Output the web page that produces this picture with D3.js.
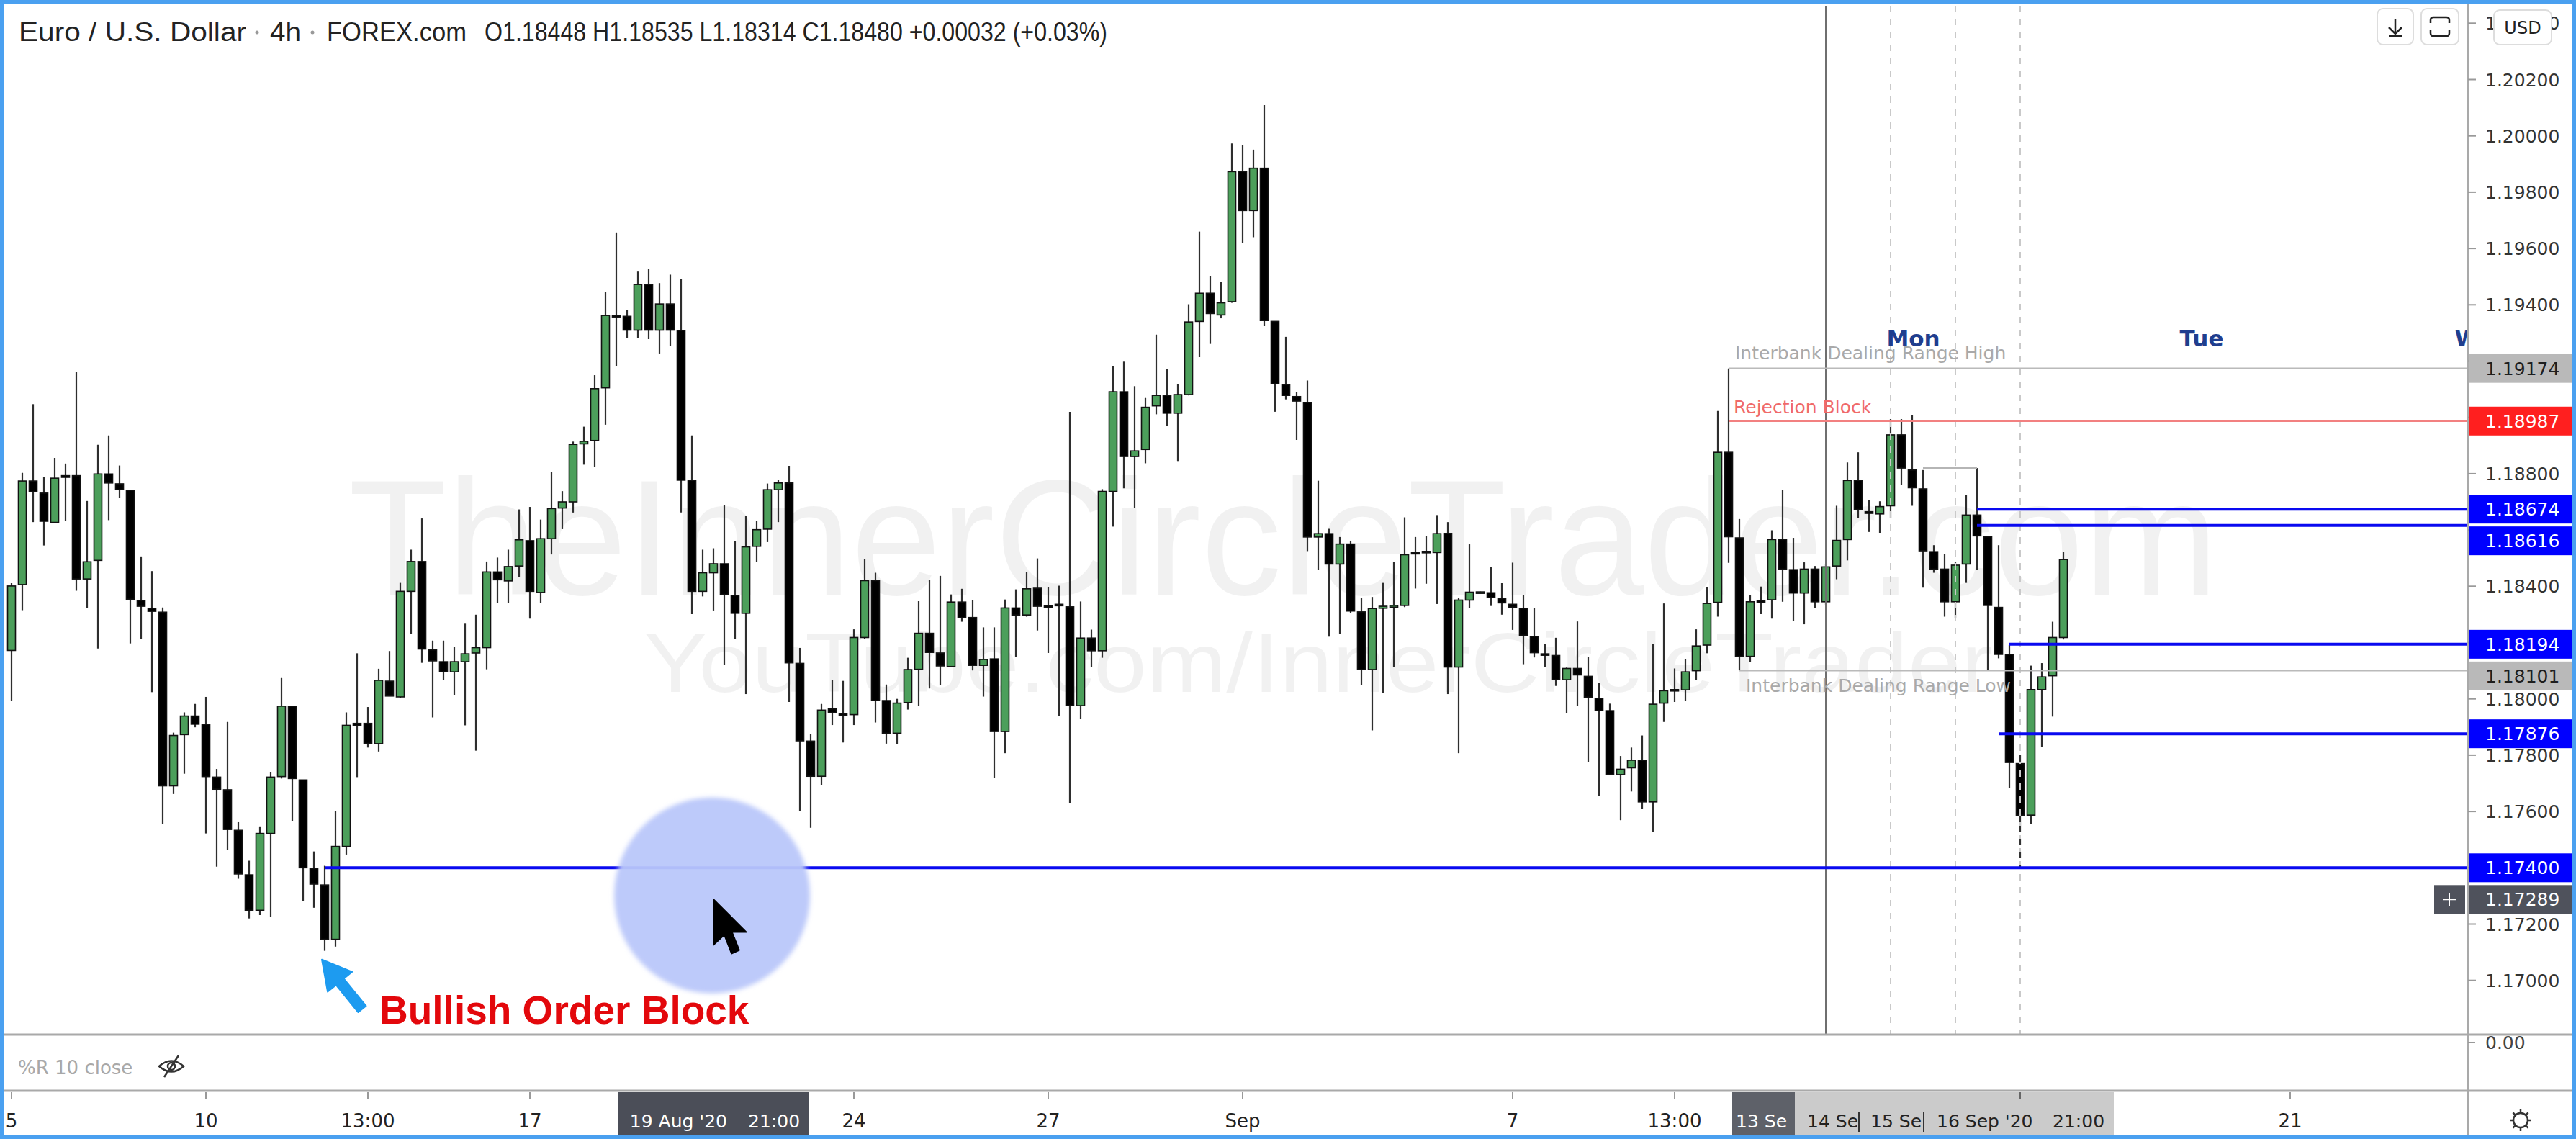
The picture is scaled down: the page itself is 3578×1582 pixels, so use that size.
<!DOCTYPE html>
<html><head><meta charset="utf-8">
<script src="https://cdn.jsdelivr.net/npm/d3@7"></script>
<style>html,body{margin:0;padding:0;background:#fff;overflow:hidden}</style>
</head><body><svg id="c" width="3578" height="1582"></svg>
<script>
// ---------------- DATA ----------------
const opens = [
1.18172,1.18406,1.18774,1.18731,1.18627,1.18793,1.18793,1.18426,1.18492,1.18799,
1.18764,1.18741,1.18350,1.18322,1.18308,1.17691,1.17873,1.17939,1.17909,1.17722,
1.17677,1.17533,1.17375,1.17249,1.17522,1.17724,1.17974,1.17712,1.17397,1.17339,
1.17146,1.17476,1.17913,1.17913,1.17841,1.18063,1.18007,1.18382,1.18488,1.18174,
1.18132,1.18096,1.18132,1.18163,1.18182,1.18451,1.18419,1.18472,1.18562,1.18378,
1.18569,1.18678,1.18700,1.18906,1.18918,1.19105,1.19362,1.19359,1.19310,1.19472,
1.19310,1.19403,1.19309,1.18776,1.18382,1.18448,1.18480,1.18368,1.18304,1.18542,
1.18603,1.18743,1.18767,1.18126,1.17850,1.17725,1.17964,1.17947,1.17944,1.18218,
1.18420,1.17994,1.17878,1.17987,1.18105,1.18233,1.18163,1.18115,1.18344,1.18289,
1.18119,1.18142,1.17884,1.18323,1.18298,1.18393,1.18331,1.18336,1.18327,1.17976,
1.18216,1.18171,1.18737,1.19091,1.18861,1.18886,1.19041,1.19078,1.19015,1.19081,
1.19341,1.19441,1.19364,1.19411,1.19873,1.19735,1.19885,1.19341,1.19116,1.19074,
1.19053,1.18575,1.18587,1.18479,1.18550,1.18309,1.18104,1.18322,1.18326,1.18332,
1.18520,1.18520,1.18520,1.18588,1.18113,1.18351,1.18379,1.18377,1.18356,1.18336,
1.18322,1.18222,1.18160,1.18154,1.18068,1.18108,1.18080,1.18002,1.17958,1.17731,
1.17755,1.17782,1.17634,1.17985,1.18031,1.18032,1.18100,1.18191,1.18343,1.18876,
1.18572,1.18151,1.18349,1.18352,1.18566,1.18459,1.18376,1.18461,1.18345,1.18472,
1.18566,1.18776,1.18665,1.18657,1.18686,1.18938,1.18813,1.18746,1.18523,1.18461,
1.18345,1.18479,1.18653,1.18576,1.18325,1.18158,1.17770,1.17587,1.18033,1.18082,
1.18218];
const highs = [
1.18411,1.18803,1.19047,1.18789,1.18856,1.18836,1.19162,1.18703,1.18903,1.18936,
1.18829,1.18741,1.18506,1.18454,1.18325,1.17880,1.17952,1.17982,1.18007,1.17751,
1.17918,1.17562,1.17425,1.17547,1.17741,1.18074,1.17974,1.17712,1.17458,1.17407,
1.17602,1.17952,1.18162,1.17971,1.18107,1.18170,1.18412,1.18530,1.18641,1.18207,
1.18207,1.18184,1.18267,1.18299,1.18488,1.18502,1.18530,1.18673,1.18682,1.18637,
1.18807,1.18738,1.18914,1.18967,1.19150,1.19445,1.19657,1.19382,1.19518,1.19528,
1.19477,1.19507,1.19491,1.18936,1.18530,1.18535,1.18689,1.18560,1.18651,1.18633,
1.18765,1.18779,1.18828,1.18181,1.17875,1.17982,1.18067,1.18064,1.18247,1.18496,
1.18448,1.18051,1.18000,1.18146,1.18347,1.18423,1.18437,1.18371,1.18391,1.18350,
1.18254,1.18254,1.18353,1.18389,1.18450,1.18499,1.18396,1.18402,1.19020,1.18346,
1.18246,1.18745,1.19181,1.19198,1.19111,1.19069,1.19294,1.19173,1.19119,1.19402,
1.19660,1.19502,1.19480,1.19973,1.19968,1.19951,1.20109,1.19341,1.19286,1.19091,
1.19131,1.18775,1.18604,1.18575,1.18562,1.18359,1.18362,1.18412,1.18487,1.18645,
1.18575,1.18579,1.18653,1.18628,1.18358,1.18549,1.18381,1.18469,1.18411,1.18484,
1.18370,1.18324,1.18194,1.18217,1.18111,1.18275,1.18148,1.18057,1.17983,1.17797,
1.17827,1.17870,1.18194,1.18339,1.18108,1.18142,1.18247,1.18398,1.19023,1.19174,
1.18639,1.18368,1.18399,1.18599,1.18742,1.18572,1.18485,1.18472,1.18479,1.18686,
1.18840,1.18876,1.18706,1.18702,1.18994,1.18994,1.19007,1.18813,1.18546,1.18515,
1.18485,1.18724,1.18820,1.18579,1.18546,1.18191,1.17770,1.18118,1.18127,1.18274,
1.18523];
const lows = [
1.17992,1.18315,1.18628,1.18545,1.18624,1.18631,1.18384,1.18322,1.18179,1.18635,
1.18714,1.18197,1.18212,1.18024,1.17555,1.17662,1.17734,1.17899,1.17522,1.17404,
1.17464,1.17361,1.17220,1.17232,1.17225,1.17717,1.17565,1.17282,1.17258,1.17105,
1.17120,1.17447,1.17722,1.17827,1.17813,1.18010,1.18003,1.18232,1.18128,1.17934,
1.18068,1.18013,1.17906,1.17816,1.18105,1.18340,1.18340,1.18433,1.18285,1.18340,
1.18513,1.18603,1.18662,1.18832,1.18825,1.18974,1.19181,1.19283,1.19283,1.19278,
1.19227,1.19255,1.18662,1.18301,1.18364,1.18314,1.18121,1.18213,1.18017,1.18487,
1.18557,1.18628,1.17989,1.17601,1.17542,1.17693,1.17907,1.17845,1.17907,1.18213,
1.17916,1.17841,1.17839,1.17962,1.17976,1.18037,1.18049,1.18113,1.18274,1.18101,
1.18008,1.17720,1.17807,1.18149,1.18292,1.18243,1.18163,1.17939,1.17630,1.17930,
1.18113,1.18146,1.18612,1.18748,1.18678,1.18837,1.19011,1.18970,1.18845,1.19078,
1.19214,1.19261,1.19352,1.19407,1.19619,1.19640,1.19324,1.19020,1.19064,1.18920,
1.18525,1.18459,1.18221,1.18232,1.18304,1.18049,1.17888,1.18021,1.18113,1.18326,
1.18392,1.18409,1.18337,1.18017,1.17807,1.18322,1.18375,1.18330,1.18299,1.18245,
1.18123,1.18147,1.18114,1.18046,1.17949,1.17976,1.17776,1.17654,1.17729,1.17569,
1.17671,1.17608,1.17526,1.17918,1.17989,1.17992,1.18068,1.18162,1.18292,1.18483,
1.18101,1.18131,1.18301,1.18285,1.18345,1.18278,1.18265,1.18322,1.18332,1.18425,
1.18492,1.18643,1.18593,1.18590,1.18643,1.18760,1.18686,1.18395,1.18448,1.18292,
1.18288,1.18412,1.18459,1.18100,1.18144,1.17683,1.17549,1.17556,1.17830,1.17937,
1.18211];
const closes = [
1.18401,1.18774,1.18736,1.18631,1.18784,1.18787,1.18426,1.18487,1.18799,1.18767,
1.18743,1.18354,1.18329,1.18311,1.17691,1.17870,1.17939,1.17910,1.17724,1.17679,
1.17536,1.17378,1.17249,1.17522,1.17722,1.17974,1.17717,1.17400,1.17342,1.17146,
1.17476,1.17906,1.17906,1.17842,1.18066,1.18010,1.18382,1.18488,1.18177,1.18135,
1.18096,1.18132,1.18160,1.18182,1.18451,1.18423,1.18470,1.18565,1.18382,1.18569,
1.18676,1.18700,1.18904,1.18915,1.19102,1.19362,1.19358,1.19310,1.19472,1.19310,
1.19403,1.19310,1.18777,1.18382,1.18448,1.18480,1.18371,1.18304,1.18540,1.18601,
1.18743,1.18767,1.18128,1.17851,1.17725,1.17960,1.17951,1.17944,1.18218,1.18420,
1.17994,1.17878,1.17985,1.18104,1.18233,1.18165,1.18117,1.18344,1.18289,1.18119,
1.18140,1.17884,1.18323,1.18298,1.18391,1.18329,1.18329,1.18333,1.17976,1.18216,
1.18171,1.18737,1.19091,1.18861,1.18881,1.19036,1.19078,1.19015,1.19081,1.19339,
1.19441,1.19369,1.19407,1.19873,1.19735,1.19885,1.19344,1.19119,1.19078,1.19058,
1.18575,1.18587,1.18479,1.18550,1.18312,1.18104,1.18321,1.18329,1.18332,1.18512,
1.18517,1.18524,1.18587,1.18113,1.18351,1.18379,1.18380,1.18360,1.18341,1.18326,
1.18226,1.18164,1.18158,1.18068,1.18108,1.18085,1.18006,1.17958,1.17731,1.17750,
1.17782,1.17634,1.17981,1.18029,1.18033,1.18096,1.18188,1.18339,1.18876,1.18576,
1.18151,1.18345,1.18347,1.18566,1.18461,1.18376,1.18461,1.18345,1.18469,1.18563,
1.18776,1.18673,1.18659,1.18683,1.18938,1.18820,1.18750,1.18526,1.18461,1.18345,
1.18475,1.18653,1.18579,1.18332,1.18158,1.17774,1.17587,1.18033,1.18078,1.18218,
1.18495];

const timeTickIdx = [0,18,33,48,78,96,114,139,154,211];
const timeTickLabels = ["5","10","13:00","17","24","27","Sep","7","13:00","21"];
const priceTicks = [1.204,1.202,1.200,1.198,1.196,1.194,1.192,1.190,1.188,1.186,1.184,1.182,1.180,1.178,1.176,1.174,1.172,1.170];

const levelPrices = [1.19174,1.18987,1.18674,1.18616,1.18194,1.18101,1.17876,1.17400];
const levelStartIdx = [159,159,182,182,185,160,184,29];
const levelKinds = ["range","rejection","ob","ob","ob","range","ob","ob"];

const separatorIdx = [168,174,180,186];
const separatorKinds = ["solid","dash","dash","dash"];
const dayNames = ["Mon","Tue","Wed"];
const dayNameIdx = [176.1,202.8,228.8];

const crossIdx = 65;
const crossPrice = 1.17289;
const orderBlockIdx = 29;

// ---------------- LAYOUT ----------------
const W = 3578, H = 1582;
const paneL = 8, paneR = 3428, paneT = 8, paneB = 1437, rPaneB = 1515;
const svg = d3.select("#c");
const x = d3.scaleLinear().domain([0,190]).range([16,2866]);
const y = d3.scaleLinear().domain([1.17,1.20]).range([1361.7,188.7]);
const fmt5 = d3.format(".5f");
const FONT = "DejaVu Sans, Verdana, sans-serif";

svg.append("rect").attr("width",W).attr("height",H).attr("fill","#fff");
const defs = svg.append("defs");
defs.append("clipPath").attr("id","clipMain").append("rect")
  .attr("x",paneL).attr("y",paneT).attr("width",paneR-paneL).attr("height",paneB-paneT);
defs.append("filter").attr("id","soft").attr("x","-20%").attr("y","-20%").attr("width","140%").attr("height","140%")
  .append("feGaussianBlur").attr("stdDeviation",3);

const main = svg.append("g").attr("clip-path","url(#clipMain)");

// watermark
main.append("text").attr("x",484).attr("y",826).attr("font-family","Liberation Sans, Arial, sans-serif")
  .attr("font-size",229).attr("textLength",2597).attr("lengthAdjust","spacingAndGlyphs")
  .attr("fill","#000").attr("fill-opacity",0.055).text("TheInnerCircleTrader.com");
main.append("text").attr("x",894).attr("y",961).attr("font-family","Liberation Sans, Arial, sans-serif")
  .attr("font-size",117).attr("textLength",1874).attr("lengthAdjust","spacingAndGlyphs")
  .attr("fill","#000").attr("fill-opacity",0.055).text("YouTube.com/InnerCircleTrader");

// candles
const idx = d3.range(opens.length);
const cg = main.append("g");
cg.selectAll("line.w").data(idx).join("line")
  .attr("x1",i=>x(i)).attr("x2",i=>x(i))
  .attr("y1",i=>y(highs[i])).attr("y2",i=>y(lows[i]))
  .attr("stroke","#2e2e2e").attr("stroke-width",2.2);
const bw = 11;
cg.selectAll("rect.b").data(idx).join("rect")
  .attr("x",i=>x(i)-bw/2).attr("width",bw)
  .attr("y",i=>y(Math.max(opens[i],closes[i])))
  .attr("height",i=>Math.max(2,Math.abs(y(opens[i])-y(closes[i]))))
  .attr("fill",i=>closes[i]>=opens[i]?"#4c9f5b":"#000")
  .attr("stroke","#111").attr("stroke-width",1.6);

// separators
separatorIdx.forEach((s,k)=>{
  main.append("line").attr("x1",x(s)).attr("x2",x(s)).attr("y1",paneT).attr("y2",paneB)
    .attr("stroke",separatorKinds[k]==="solid"?"#6f6f6f":"#c9c9c9")
    .attr("stroke-width",2).attr("stroke-dasharray",separatorKinds[k]==="solid"?null:"9,9");
});
const sLast = separatorIdx[3];
[[1.17800,opens[sLast]],[lows[sLast],1.17400]].forEach(([a,b])=>{
  main.append("line").attr("x1",x(sLast)).attr("x2",x(sLast)).attr("y1",y(a)).attr("y2",y(b))
    .attr("stroke","#333").attr("stroke-width",2.2).attr("stroke-dasharray","9,9");
});

// levels
const kindStyle = {
  range:{line:"#bababa",w:2.5,bg:"#b9b9b9",fg:"#1e1e1e"},
  rejection:{line:"#f28080",w:2.5,bg:"#ff1f1f",fg:"#ffffff"},
  ob:{line:"#0a0af0",w:4,bg:"#0000ff",fg:"#ffffff"},
  cross:{bg:"#4f525c",fg:"#ffffff"}
};
levelPrices.forEach((p,k)=>{
  const st = kindStyle[levelKinds[k]];
  main.append("line").attr("x1",x(levelStartIdx[k])).attr("x2",paneR).attr("y1",y(p)).attr("y2",y(p))
    .attr("stroke",st.line).attr("stroke-width",st.w);
});
main.append("line").attr("x1",x(177)).attr("x2",x(182)).attr("y1",y(highs[182])).attr("y2",y(highs[182]))
  .attr("stroke","#b5b5b5").attr("stroke-width",2);

main.append("text").attr("x",x(159)+9).attr("y",y(levelPrices[0])-13).attr("font-family",FONT)
  .attr("font-size",25).attr("fill","#a9a9a9").text("Interbank Dealing Range High");
main.append("text").attr("x",x(159)+7).attr("y",y(levelPrices[1])-11).attr("font-family",FONT)
  .attr("font-size",25).attr("fill","#f06a6a").text("Rejection Block");
main.append("text").attr("x",x(160)+9).attr("y",y(levelPrices[5])+30).attr("font-family",FONT)
  .attr("font-size",25).attr("fill","#a9a9a9").text("Interbank Dealing Range Low");

// day names (the last one is cut by the price axis)
dayNames.forEach((d,k)=>{
  main.append("text").attr("x",x(dayNameIdx[k])).attr("y",481).attr("text-anchor","middle")
    .attr("font-family",FONT).attr("font-size",31).attr("font-weight","bold").attr("fill","#1f3e8e").text(d);
});

// annotation: highlight circle + cursor at crosshair
const cx = x(crossIdx), cy = y(crossPrice);
main.append("circle").attr("cx",cx-2).attr("cy",cy-5).attr("r",136)
  .attr("fill","#b9c7fa").attr("fill-opacity",0.95).attr("filter","url(#soft)");
const cur = [[0,0],[0,64],[15,50],[25,76],[36,71],[26,46],[46,46]];
main.append("path").attr("d","M"+cur.map(p=>(cx+p[0])+","+(cy+p[1])).join("L")+"Z")
  .attr("fill","#000").attr("stroke","#000").attr("stroke-width",1.5).attr("stroke-linejoin","round");

// annotation: arrow + text for order block
const ax = x(orderBlockIdx), ay = y(lows[orderBlockIdx]);
const tip = [ax-4, ay+12], tail = [ax+52, ay+81];
const dx = tip[0]-tail[0], dy = tip[1]-tail[1], L = Math.hypot(dx,dy);
const ux = dx/L, uy = dy/L, nx = -uy, ny = ux;
const hl = 40, hw = 22, sw = 7;
const base = [tip[0]-ux*hl, tip[1]-uy*hl];
const arrowPts = [
  tip,
  [base[0]+nx*hw, base[1]+ny*hw],
  [base[0]+nx*sw, base[1]+ny*sw],
  [tail[0]+nx*sw, tail[1]+ny*sw],
  [tail[0]-nx*sw, tail[1]-ny*sw],
  [base[0]-nx*sw, base[1]-ny*sw],
  [base[0]-nx*hw, base[1]-ny*hw]
];
svg.append("path").attr("d","M"+arrowPts.map(p=>p[0]+","+p[1]).join("L")+"Z")
  .attr("fill","#1d9bf0").attr("stroke","#1d9bf0").attr("stroke-width",2).attr("stroke-linejoin","round");
svg.append("text").attr("x",ax+76).attr("y",ay+101).attr("font-family","Liberation Sans, Arial, sans-serif")
  .attr("font-weight","bold").attr("font-size",55).attr("fill","#e3080c").text("Bullish Order Block");

// ---------------- PANES / AXES ----------------
svg.append("line").attr("x1",0).attr("x2",W).attr("y1",paneB).attr("y2",paneB).attr("stroke","#a9a9a9").attr("stroke-width",3);
svg.append("line").attr("x1",0).attr("x2",W).attr("y1",rPaneB).attr("y2",rPaneB).attr("stroke","#a9a9a9").attr("stroke-width",3);
svg.append("line").attr("x1",paneR).attr("x2",paneR).attr("y1",0).attr("y2",H).attr("stroke","#a9a9a9").attr("stroke-width",3);

// %R pane legend
svg.append("text").attr("x",25).attr("y",1492).attr("font-family",FONT).attr("font-size",26).attr("fill","#a8a8a8").text("%R 10 close");
const eye = svg.append("g").attr("transform","translate(238,1481)").attr("fill","none").attr("stroke","#333").attr("stroke-width",2.5);
eye.append("path").attr("d","M-17,0 Q0,-15 17,0 Q0,15 -17,0Z");
eye.append("circle").attr("r",5);
eye.append("line").attr("x1",-10).attr("y1",15).attr("x2",10).attr("y2",-15);
svg.append("line").attr("x1",paneR).attr("x2",paneR+10).attr("y1",1448).attr("y2",1448).attr("stroke","#999").attr("stroke-width",2);
svg.append("text").attr("x",3452).attr("y",1457).attr("font-family",FONT).attr("font-size",25).attr("fill","#444").text("0.00");

// price labels (with overlap push)
const labels = levelPrices.map((p,k)=>({p,kind:levelKinds[k]}));
labels.push({p:crossPrice,kind:"cross"});
labels.forEach(l=>l.y=y(l.p));
labels.sort((a,b)=>a.y-b.y);
for(let i=1;i<labels.length;i++){ if(labels[i].y<labels[i-1].y+44) labels[i].y=labels[i-1].y+44; }

// price axis ticks (labels hidden where a price label covers them)
const pa = svg.append("g");
priceTicks.forEach(p=>{
  pa.append("line").attr("x1",paneR).attr("x2",paneR+11).attr("y1",y(p)).attr("y2",y(p)).attr("stroke","#999").attr("stroke-width",2);
  const covered = labels.some(l=>Math.abs(l.y-y(p))<29);
  if(!covered) pa.append("text").attr("x",3452).attr("y",y(p)+9).attr("font-family",FONT).attr("font-size",25).attr("fill","#333").text(fmt5(p));
});

labels.forEach(l=>{
  const st = kindStyle[l.kind];
  svg.append("rect").attr("x",paneR+1).attr("y",l.y-20).attr("width",W-paneR-7).attr("height",40).attr("fill",st.bg);
  svg.append("text").attr("x",3452).attr("y",l.y+9).attr("font-family",FONT).attr("font-size",25).attr("fill",st.fg).text(fmt5(l.p));
  if(l.kind==="cross"){
    svg.append("rect").attr("x",3381).attr("y",l.y-20).attr("width",43).attr("height",40).attr("fill",st.bg);
    svg.append("path").attr("d",`M${3402-9},${l.y}H${3402+9}M3402,${l.y-9}V${l.y+9}`).attr("stroke","#fff").attr("stroke-width",2);
  }
});

// time axis
const ta = svg.append("g");
timeTickIdx.forEach((t,k)=>{
  ta.append("line").attr("x1",x(t)).attr("x2",x(t)).attr("y1",rPaneB+2).attr("y2",rPaneB+12).attr("stroke","#999").attr("stroke-width",2);
  ta.append("text").attr("x",x(t)).attr("y",1566).attr("text-anchor","middle").attr("font-family",FONT).attr("font-size",26).attr("fill","#222").text(timeTickLabels[k]);
});
ta.append("rect").attr("x",cx-132).attr("y",rPaneB+2).attr("width",264).attr("height",60).attr("fill","#4b4e58");
ta.append("text").attr("x",cx+19).attr("y",1566).attr("text-anchor","end").attr("font-family",FONT).attr("font-size",25).attr("fill","#fff").text("19 Aug '20");
ta.append("text").attr("x",cx+48).attr("y",1566).attr("font-family",FONT).attr("font-size",25).attr("fill","#fff").text("21:00");
ta.append("rect").attr("x",2493).attr("y",rPaneB+2).attr("width",443).attr("height",60).attr("fill","#cbcbcb");
ta.append("rect").attr("x",2406).attr("y",rPaneB+2).attr("width",87).attr("height",60).attr("fill","#5e6169");
ta.append("text").attr("x",2411).attr("y",1566).attr("font-family",FONT).attr("font-size",25).attr("fill","#fff").text("13 Se");
[["14 Se",2510],["15 Se",2598],["16 Sep '20",2690],["21:00",2851]].forEach(([t,px])=>{
  ta.append("text").attr("x",px).attr("y",1566).attr("font-family",FONT).attr("font-size",25).attr("fill","#222").text(t);
});
[2582,2672].forEach(px=>ta.append("line").attr("x1",px).attr("x2",px).attr("y1",1545).attr("y2",1572).attr("stroke","#333").attr("stroke-width",2));
ta.append("line").attr("x1",x(186)).attr("x2",x(186)).attr("y1",rPaneB+2).attr("y2",rPaneB+12).attr("stroke","#666").attr("stroke-width",2);

// gear
const gear = svg.append("g").attr("transform","translate(3501,1556)").attr("stroke","#333").attr("fill","none").attr("stroke-width",2.5);
gear.append("circle").attr("r",10);
d3.range(8).forEach(k=>{const a=k*Math.PI/4; gear.append("line").attr("x1",10*Math.cos(a)).attr("y1",10*Math.sin(a)).attr("x2",15*Math.cos(a)).attr("y2",15*Math.sin(a));});

// header
const hdr = svg.append("g").attr("font-family","Liberation Sans, Arial, sans-serif").attr("font-size",36).attr("fill","#222");
const o = opens[crossIdx], h = highs[crossIdx], lo = lows[crossIdx], c = closes[crossIdx];
const chg = c - closes[crossIdx-1];
const ohlc = `O${fmt5(o)} H${fmt5(h)} L${fmt5(lo)} C${fmt5(c)} ${chg>=0?"+":""}${fmt5(chg)} (${chg>=0?"+":""}${(chg/closes[crossIdx-1]*100).toFixed(2)}%)`;
[["Euro / U.S. Dollar",26,316],["4h",375,43],["FOREX.com",454,194],[ohlc,673,865]].forEach(([t,px,len])=>{
  hdr.append("text").attr("x",px).attr("y",57).attr("textLength",len).attr("lengthAdjust","spacingAndGlyphs").text(t);
});
[357,434].forEach(px=>hdr.append("circle").attr("cx",px).attr("cy",45).attr("r",2.5).attr("fill","#999"));

// top-right buttons
const btn = svg.append("g");
btn.append("rect").attr("x",3302).attr("y",12).attr("width",50).attr("height",50).attr("rx",8).attr("fill","#fff").attr("stroke","#ddd").attr("stroke-width",2);
btn.append("path").attr("d","M3327,26 V46 M3318,38 L3327,47 L3336,38 M3318,50 H3336").attr("fill","none").attr("stroke","#222").attr("stroke-width",2.5);
btn.append("rect").attr("x",3363).attr("y",12).attr("width",52).attr("height",50).attr("rx",8).attr("fill","#fff").attr("stroke","#ddd").attr("stroke-width",2);
btn.append("path").attr("d","M3376,32 V28 Q3376,24 3380,24 H3398 Q3402,24 3402,28 V32 M3376,42 V46 Q3376,50 3380,50 H3398 Q3402,50 3402,46 V42").attr("fill","none").attr("stroke","#222").attr("stroke-width",2.5);
btn.append("rect").attr("x",3464).attr("y",14).attr("width",80).attr("height",48).attr("rx",8).attr("fill","#fff").attr("stroke","#ddd").attr("stroke-width",2);
btn.append("text").attr("x",3504).attr("y",47).attr("text-anchor","middle").attr("font-family",FONT).attr("font-size",24).attr("fill","#222").text("USD");

// frame
svg.append("rect").attr("x",3).attr("y",3).attr("width",W-6).attr("height",H-6).attr("fill","none").attr("stroke","#4aa0f0").attr("stroke-width",6);
</script>
</body></html>
